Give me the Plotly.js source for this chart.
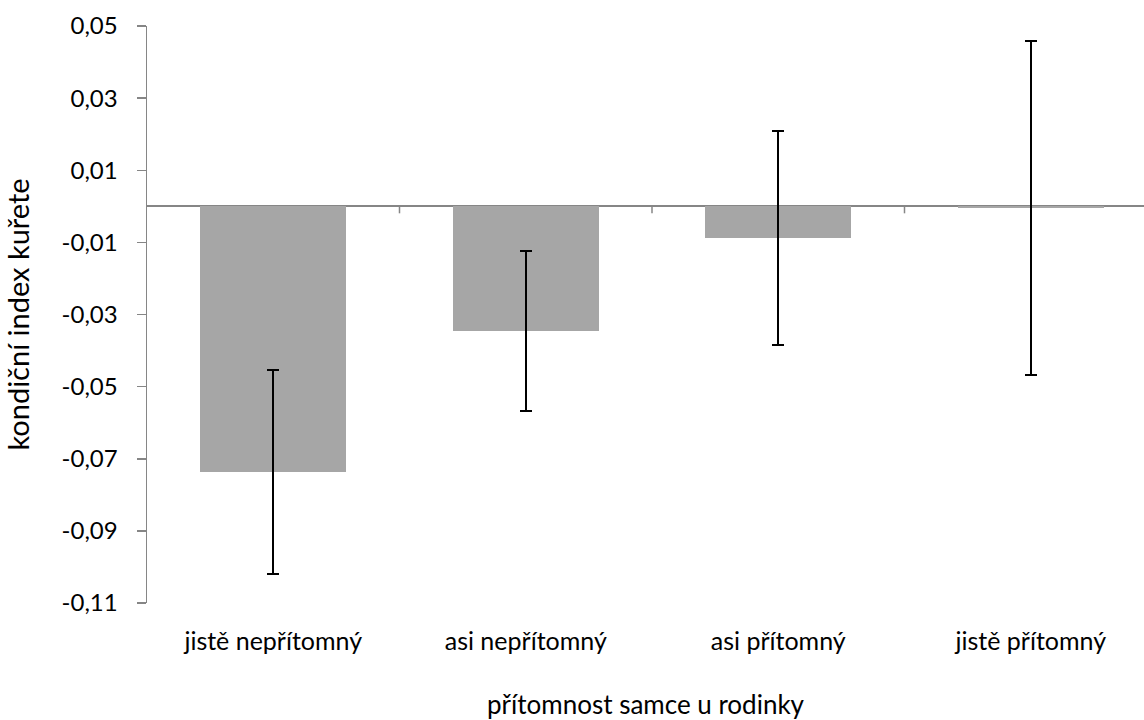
<!DOCTYPE html>
<html>
<head>
<meta charset="utf-8">
<script src="https://cdn.plot.ly/plotly-3.0.1.min.js"></script>
<style>html,body{margin:0;padding:0;background:#fff}#chart{width:1144px;height:720px}</style>
</head>
<body>
<div id="chart"></div>
<script>
var categories = ["jistě nepřítomný", "asi nepřítomný", "asi přítomný", "jistě přítomný"];
var values = [-0.0737, -0.0346, -0.0088, -0.0004];
var errors = [0.0282, 0.0222, 0.0296, 0.0463];
var yTickValues = [0.05, 0.03, 0.01, -0.01, -0.03, -0.05, -0.07, -0.09, -0.11];
var yTitle = "kondiční index kuřete";
var xTitle = "přítomnost samce u rodinky";

var FONT = "Lato, 'Open Sans', sans-serif";
var axisGray = "#868686";

// Excel-style labels: decimal comma and plain hyphen-minus
var yTickText = yTickValues.map(function(v){ return v.toFixed(2).replace(".", ","); });

var trace = {
  type: "bar",
  x: categories.map(function(c, i){ return i; }),
  y: values,
  width: 0.58,
  marker: {color: "#a6a6a6", line: {width: 0}},
  error_y: {type: "data", array: errors, visible: true, color: "#000000", thickness: 2, width: 6},
  hoverinfo: "none"
};

var boundaryTicks = [];
for (var i = 0; i < categories.length - 1; i++) {
  boundaryTicks.push({
    type: "line", xref: "x", yref: "y", x0: i + 0.5, x1: i + 0.5,
    ysizemode: "pixel", yanchor: 0, y0: 0, y1: -7,
    line: {color: axisGray, width: 1.5}
  });
}

var layout = {
  width: 1144, height: 720,
  margin: {l: 147, r: 0, t: 26, b: 117, pad: 0},
  paper_bgcolor: "#ffffff", plot_bgcolor: "#ffffff",
  font: {family: FONT, color: "#000000", size: 24},
  showlegend: false,
  bargap: 0,
  xaxis: {
    type: "linear",
    range: [-0.5, -0.5 + 997 / 252.5],
    tickvals: categories.map(function(c, i){ return i; }),
    ticktext: categories,
    ticks: "", showline: false, showgrid: false, zeroline: false,
    ticklabelstandoff: 21,
    tickfont: {family: FONT, size: 25, color: "#000"},
    title: {text: xTitle, font: {family: FONT, size: 26, color: "#000"}, standoff: 42},
    automargin: false, fixedrange: true
  },
  yaxis: {
    range: [-0.11, 0.05],
    tickvals: yTickValues,
    ticktext: yTickText,
    ticks: "outside", ticklen: 9, tickwidth: 1.5, tickcolor: axisGray,
    showline: true, linecolor: axisGray, linewidth: 1.5,
    showgrid: false,
    zeroline: true, zerolinecolor: axisGray, zerolinewidth: 2,
    ticklabelstandoff: 14,
    tickfont: {family: FONT, size: 24, color: "#000"},
    title: {text: yTitle, font: {family: FONT, size: 29, color: "#000"}, standoff: 25},
    automargin: false, fixedrange: true
  },
  shapes: boundaryTicks
};

Plotly.newPlot("chart", [trace], layout, {displayModeBar: false, staticPlot: true});
</script>
</body>
</html>
